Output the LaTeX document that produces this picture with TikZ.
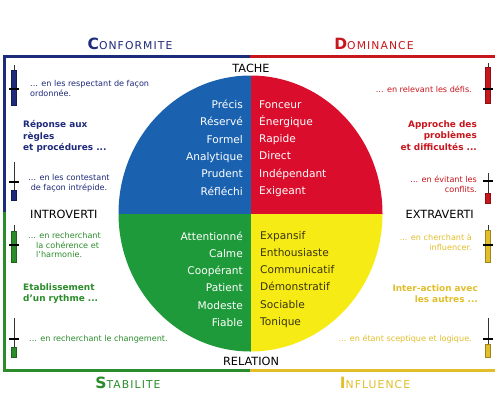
\documentclass[tikz,border=0pt]{standalone}
\usepackage{fontspec}
\setmainfont{DejaVu Sans}
\definecolor{cnavy}{HTML}{1E2A7A}
\definecolor{cred}{HTML}{C8161D}
\definecolor{cgreen}{HTML}{2A8C2A}
\definecolor{cgold}{HTML}{E2BE2A}
\definecolor{fblue}{HTML}{1A62B0}
\definecolor{fred}{HTML}{DA0E2C}
\definecolor{fgreen}{HTML}{1F9A3A}
\definecolor{fyellow}{HTML}{F6EB14}
\definecolor{ytext}{HTML}{3A3410}
\newcommand\mycandle[6]{%
  \draw[line width=0.9pt,black!80] (#1,#2) -- (#1,#3);
  \filldraw[fill=#6,draw=#6!70!black,line width=0.5pt] (#1-2.6,#3) rectangle (#1+2.6,#4);
  \draw[line width=1.4pt,black] (#1-5,#5) -- (#1+5,#5);
}
\newcommand\headtxt[2]{{\fontsize{15.5}{15}\selectfont\bfseries #1}{\fontsize{10.8}{12}\selectfont\addfontfeatures{LetterSpace=10}#2}}
\tikzset{
  quadw/.style={inner sep=0pt, font=\fontsize{10.6}{12}\selectfont},
  smalltxt/.style={inner sep=0pt, font=\fontsize{8.1}{9.8}\selectfont},
  boldh/.style={inner sep=0pt, font=\fontsize{8.9}{11.3}\selectfont\bfseries},
  axistxt/.style={inner sep=0pt, font=\fontsize{11.3}{13}\selectfont},
  headnode/.style={inner sep=0pt, anchor=base},
  frameline/.style={line width=3pt},
}
\begin{document}
\begin{tikzpicture}[x=1pt,y=-1pt]
\useasboundingbox (0,0) rectangle (495,400);
\fill[white] (0,0) rectangle (495,400);
% frame
\draw[frameline,cnavy] (3,56.5) -- (250,56.5);
\draw[frameline,cred] (250,56.5) -- (495,56.5);
\draw[frameline,cnavy] (4.5,55) -- (4.5,212);
\draw[frameline,cgreen] (4.5,212) -- (4.5,372);
\draw[frameline,cgreen] (3,370.5) -- (250,370.5);
\draw[frameline,cgold] (250,370.5) -- (495,370.5);
% circle
\begin{scope}
\clip (250.5,213.5) ellipse [x radius=132, y radius=138];
\fill[fblue] (100,60) rectangle (250.5,213.5);
\fill[fred] (250.5,60) rectangle (400,213.5);
\fill[fgreen] (100,213.5) rectangle (250.5,360);
\fill[fyellow] (250.5,213.5) rectangle (400,360);
\end{scope}
% quadrant words
\foreach \w [count=\i from 0] in {Précis,Réservé,Formel,Analytique,Prudent,Réfléchi}
  \node[quadw, text=white, anchor=base east] (bw\i) at (243,108.5+17.35*\i) {\w};
\foreach \w [count=\i from 0] in {Fonceur,Énergique,Rapide,Direct,Indépendant,Exigeant}
  \node[quadw, text=white, anchor=base west] (rw\i) at (259,108+17.3*\i) {\w};
\foreach \w [count=\i from 0] in {Attentionné,Calme,Coopérant,Patient,Modeste,Fiable}
  \node[quadw, text=white, anchor=base east] (gw\i) at (243,240+17.3*\i) {\w};
\foreach \w [count=\i from 0] in {Expansif,Enthousiaste,Communicatif,Démonstratif,Sociable,Tonique}
  \node[quadw, text=ytext, anchor=base west] (yw\i) at (260,239+17.3*\i) {\w};
% axis labels
\node[axistxt, anchor=base] (tache) at (251,72) {TACHE};
\node[axistxt, anchor=base] (relation) at (251,365) {RELATION};
\node[axistxt, anchor=base west] (intro) at (30,218) {INTROVERTI};
\node[axistxt, anchor=base east] (extra) at (474,218) {EXTRAVERTI};
% headings
\node[headnode, text=cnavy] (hconf) at (130,49) {\headtxt{C}{ONFORMITE}};
\node[headnode, text=cred] (hdom) at (374,49) {\headtxt{D}{OMINANCE}};
\node[headnode, text=cgreen] (hstab) at (128,388) {\headtxt{S}{TABILITE}};
\node[headnode, text=cgold] (hinf) at (375,388) {\headtxt{I}{NFLUENCE}};
% left texts
\node[smalltxt, text=cnavy, anchor=north west, align=left] (l1) at (30,80) {... en les respectant de façon\\ordonnée.};
\node[boldh, text=cnavy, anchor=north west, align=left] (l2) at (23,120.5) {Réponse aux\\règles\\et procédures ...};
\node[smalltxt, text=cnavy, anchor=north, align=center] (l3) at (69,174) {... en les contestant\\de façon intrépide.};
\node[smalltxt, text=cgreen, anchor=north west, align=left] (l4) at (28,232) {... en recherchant\\\hspace*{8pt}la cohérence et\\\hspace*{8pt}l'harmonie.};
\node[boldh, text=cgreen, anchor=north west, align=left] (l5) at (23,283.5) {Etablissement\\d'un rythme ...};
\node[smalltxt, text=cgreen, anchor=base west] (l6) at (29,341) {... en recherchant le changement.};
% right texts
\node[smalltxt, text=cred, anchor=base east] (r1) at (472,92) {... en relevant les défis.};
\node[boldh, text=cred, anchor=north east, align=right] (r2) at (477,120.5) {Approche des\\problèmes\\et difficultés ...};
\node[smalltxt, text=cred, anchor=north east, align=right] (r3) at (477,176) {... en évitant les\\conflits.};
\node[smalltxt, text=cgold, anchor=north east, align=right] (r4) at (472,234) {... en cherchant à\\influencer.};
\node[boldh, text=cgold, anchor=north east, align=right] (r5) at (478,284.5) {Inter-action avec\\les autres ...};
\node[smalltxt, text=cgold, anchor=base east] (r6) at (472,341) {... en étant sceptique et logique.};
% candles
\mycandle{14}{65}{70}{105}{89}{cnavy}
\mycandle{14}{162}{190}{200}{182}{cnavy}
\mycandle{14}{225}{231}{262}{245}{cgreen}
\mycandle{14}{318}{347}{357}{339}{cgreen}
\mycandle{488}{63}{67}{103}{89}{cred}
\mycandle{488}{173}{193}{203}{181}{cred}
\mycandle{488}{225}{230}{262}{245}{cgold}
\mycandle{488}{318}{344}{357}{339}{cgold}
\end{tikzpicture}
\end{document}
